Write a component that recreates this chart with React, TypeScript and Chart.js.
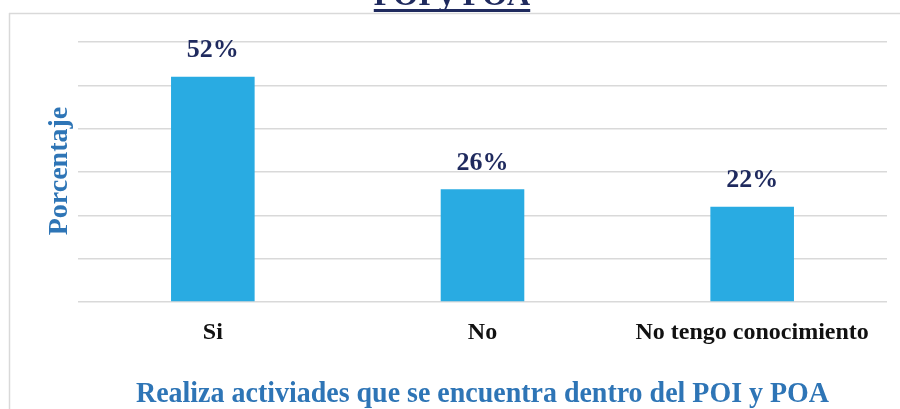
import React, { useEffect, useRef } from "react";
import { Chart, registerables } from "chart.js";

Chart.register(...registerables);

const categories = ["Si", "No", "No tengo conocimiento"];
const values = [52, 26, 22];
const valueLabels = ["52%", "26%", "22%"];
const yMax = 60;
const yStep = 10;
const topTitle = "POI y POA";
const yTitle = "Porcentaje";
const xTitle = "Realiza activiades que se encuentra dentro del POI y POA";

const SERIF = '"Liberation Serif", "Times New Roman", serif';
const NAVY = "#1F2A5E";
const BLUE = "#2E75B6";
const BAR = "#29ABE2";
const GRID = "#D9D9D9";

const textPlugin = {
  id: "textPlugin",
  afterDraw(chart: any) {
    const ctx = chart.ctx as CanvasRenderingContext2D;
    const area = chart.chartArea;
    ctx.save();
    // outer border lines
    ctx.strokeStyle = GRID;
    ctx.lineWidth = 1.5;
    ctx.beginPath();
    ctx.moveTo(9, 13.5);
    ctx.lineTo(900, 13.5);
    ctx.moveTo(9.5, 13);
    ctx.lineTo(9.5, 409);
    ctx.stroke();

    // top (cut-off) title
    ctx.fillStyle = NAVY;
    ctx.font = `bold 32px ${SERIF}`;
    ctx.textAlign = "center";
    ctx.textBaseline = "alphabetic";
    const tw = ctx.measureText(topTitle).width;
    const tcx = 452;
    ctx.fillText(topTitle, tcx, 5);
    ctx.fillRect(tcx - tw / 2, 9, tw, 3);

    // y title
    ctx.save();
    ctx.translate(60, 171);
    ctx.rotate(-Math.PI / 2);
    ctx.fillStyle = BLUE;
    ctx.font = `bold 28px ${SERIF}`;
    ctx.textAlign = "center";
    ctx.textBaseline = "middle";
    ctx.fillText(yTitle, 0, 0);
    ctx.restore();

    // x title (condensed)
    ctx.save();
    ctx.font = `bold 29px ${SERIF}`;
    const xw = ctx.measureText(xTitle).width;
    const target = 693;
    const sx = target / xw;
    ctx.translate((area.left + area.right) / 2, 395);
    ctx.scale(sx, 1);
    ctx.fillStyle = BLUE;
    ctx.textAlign = "center";
    ctx.textBaseline = "middle";
    ctx.fillText(xTitle, 0, 0);
    ctx.restore();

    // data labels
    const meta = chart.getDatasetMeta(0);
    ctx.fillStyle = NAVY;
    ctx.font = `bold 26px ${SERIF}`;
    ctx.textAlign = "center";
    ctx.textBaseline = "middle";
    meta.data.forEach((bar: any, i: number) => {
      ctx.fillText(valueLabels[i], bar.x, bar.y - 26);
    });
    ctx.restore();
  },
};

export default function App() {
  const ref = useRef<HTMLCanvasElement>(null);
  useEffect(() => {
    if (!ref.current) return;
    const chart = new Chart(ref.current, {
      type: "bar",
      data: {
        labels: categories,
        datasets: [
          {
            data: values,
            backgroundColor: BAR,
            borderWidth: 0,
            categoryPercentage: 1,
            barPercentage: 0.31,
          },
        ],
      },
      options: {
        responsive: false,
        animation: false,
        devicePixelRatio: 1,
        layout: { padding: { top: 42, left: 0, right: 13, bottom: 0 } },
        plugins: {
          legend: { display: false },
          tooltip: { enabled: false },
          title: { display: false },
        },
        scales: {
          x: {
            grid: { display: false, drawTicks: false },
            border: { display: false },
            ticks: {
              color: "#111111",
              font: { family: SERIF, size: 24, weight: "bold" },
              padding: 16,
              maxRotation: 0,
              autoSkip: false,
            },
            afterFit: (scale: any) => {
              scale.height = 107;
            },
          },
          y: {
            min: 0,
            max: yMax,
            ticks: { display: false, stepSize: yStep },
            grid: { color: GRID, lineWidth: 1.5, drawTicks: false },
            border: { display: false },
            afterFit: (scale: any) => {
              scale.width = 78;
            },
          },
        },
      },
      plugins: [textPlugin],
    });
    return () => chart.destroy();
  }, []);
  return (
    <div style={{ position: "fixed", left: 0, top: 0, width: 900, height: 409, background: "#fff" }}>
      <canvas ref={ref} width={900} height={409} style={{ display: "block" }} />
    </div>
  );
}
